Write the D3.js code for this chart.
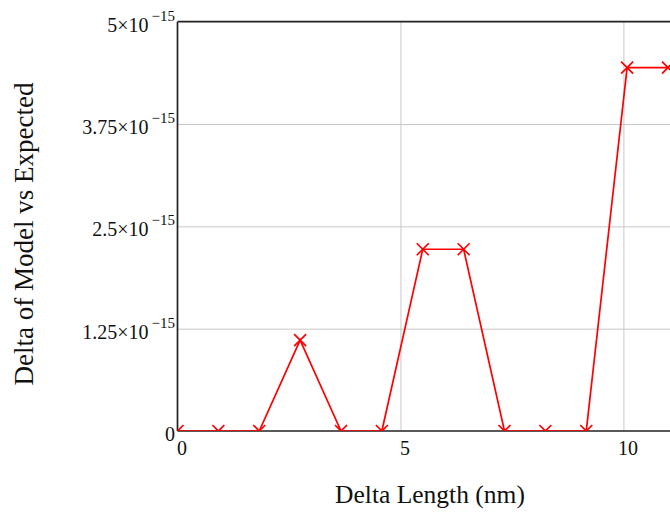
<!DOCTYPE html>
<html><head><meta charset="utf-8">
<script src="https://cdn.jsdelivr.net/npm/d3@7"></script>
<style>body{margin:0;background:#fff} svg{display:block}</style>
</head><body><svg id="c" width="670" height="512"></svg>
<script>
const xValues = [0, 0.917, 1.833, 2.75, 3.667, 4.583, 5.5, 6.417, 7.333, 8.25, 9.167, 10.083, 11];
const yValues = [0, 0, 0, 1.11e-15, 0, 0, 2.22e-15, 2.22e-15, 0, 0, 0, 4.44e-15, 4.44e-15];
const xTicks = [0, 5, 10];
const xTickLabels = ["0", "5", "10"];
const yTicks = [0, 1.25e-15, 2.5e-15, 3.75e-15, 5e-15];
const yTickMantissas = ["0", "1.25", "2.5", "3.75", "5"];
const yTickExponent = "\u2009\u221215";
const xTitle = "Delta Length (nm)";
const yTitle = "Delta of Model vs Expected";

const L = 177.5, T = 21.7, B = 431, R = 668;
const x = d3.scaleLinear().domain([0, 11]).range([L, R]);
const y = d3.scaleLinear().domain([0, 5e-15]).range([B, T]);
const svg = d3.select("#c");
const font = "'Liberation Serif','Times New Roman',serif";
const red = "#ff0000";

// gridlines
svg.append("g").attr("transform", `translate(0,${B})`)
  .call(d3.axisBottom(x).tickValues(xTicks.slice(1)).tickSize(-(B - T)).tickFormat(""))
  .call(g => { g.select(".domain").remove(); g.selectAll("line").attr("stroke", "#c8c8c8").attr("stroke-width", 1); });
svg.append("g").attr("transform", `translate(${L},0)`)
  .call(d3.axisLeft(y).tickValues(yTicks.slice(1, 4)).tickSize(-(700 - L)).tickFormat(""))
  .call(g => { g.select(".domain").remove(); g.selectAll("line").attr("stroke", "#c8c8c8").attr("stroke-width", 1); });

// frame
const frame = svg.append("g").attr("stroke", "#222").attr("stroke-width", 1.7).attr("fill", "none");
frame.append("line").attr("x1", L).attr("x2", L).attr("y1", T).attr("y2", B);
frame.append("line").attr("x1", L).attr("x2", 700).attr("y1", T).attr("y2", T);
frame.append("line").attr("x1", L).attr("x2", 700).attr("y1", B).attr("y2", B);

// y tick labels
const yl = svg.append("g").attr("font-family", font).attr("fill", "#111");
yTicks.forEach((v, i) => {
  const t = yl.append("text").attr("x", 175).attr("y", y(v) + 10).attr("text-anchor", "end").attr("font-size", 20);
  if (v === 0) { t.text(yTickMantissas[i]); }
  else {
    t.append("tspan").text(yTickMantissas[i] + "\u00d710");
    t.append("tspan").attr("dy", -11).attr("font-size", 15).text(yTickExponent);
  }
});
// x tick labels
svg.append("g").attr("font-family", font).attr("fill", "#111")
  .selectAll("text").data(xTicks).join("text")
  .attr("x", d => x(d) + 4.5).attr("y", 455).attr("text-anchor", "middle").attr("font-size", 20)
  .text((d, i) => xTickLabels[i]);

// titles
svg.append("text").attr("x", 430).attr("y", 503).attr("text-anchor", "middle")
  .attr("font-family", font).attr("font-size", 25.5).attr("fill", "#111").text(xTitle);
svg.append("text").attr("transform", "translate(33,234) rotate(-90)").attr("text-anchor", "middle")
  .attr("font-family", font).attr("font-size", 27).attr("fill", "#111").text(yTitle);

// data
svg.append("clipPath").attr("id", "clip").append("rect").attr("x", L).attr("y", T).attr("width", 700 - L).attr("height", B - T);
const pts = xValues.map((d, i) => [d, yValues[i]]);
const plot = svg.append("g").attr("clip-path", "url(#clip)");
plot.append("path").datum(pts)
  .attr("d", d3.line().x(d => x(d[0])).y(d => y(d[1])))
  .attr("fill", "none").attr("stroke", red).attr("stroke-width", 1.7);
const s = 6;
plot.selectAll("path.m").data(pts).join("path").attr("class", "m")
  .attr("d", d => { const cx = x(d[0]), cy = y(d[1]); return `M${cx - s},${cy - s}L${cx + s},${cy + s}M${cx - s},${cy + s}L${cx + s},${cy - s}`; })
  .attr("stroke", red).attr("stroke-width", 1.7).attr("fill", "none");
</script></body></html>
